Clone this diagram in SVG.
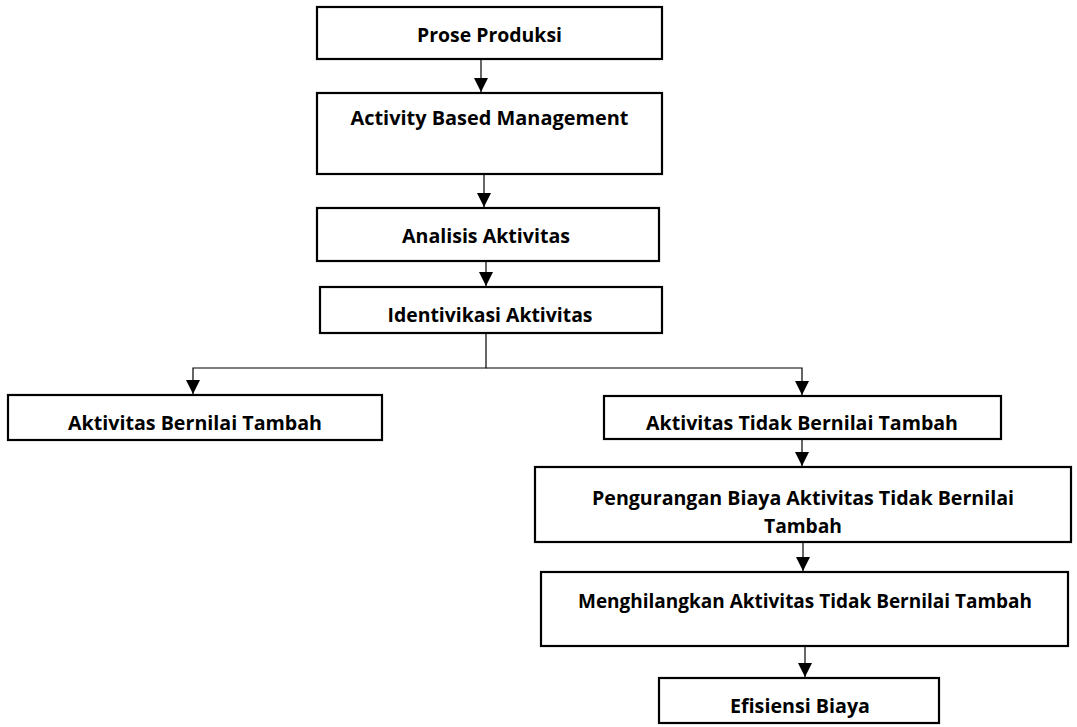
<svg xmlns="http://www.w3.org/2000/svg" width="1077" height="727" viewBox="0 0 1077 727">
<style>
.box{fill:#fff;stroke:#000;stroke-width:2.2}
.t{font-family:"Open Sans","Liberation Sans",sans-serif;font-weight:700;font-size:20px;fill:#000;text-anchor:middle}
.c{stroke:#000;stroke-width:1.2;fill:none}
</style>
<defs>
<marker id="ah" viewBox="0 0 14 14" refX="14" refY="7" markerWidth="14" markerHeight="14" markerUnits="userSpaceOnUse" orient="auto">
<path d="M0,0 L14,7 L0,14 z" fill="#000"/>
</marker>
</defs>
<rect width="1077" height="727" fill="#fff"/>
<g id="connectors">
<line class="c" x1="481" y1="59" x2="481" y2="92" marker-end="url(#ah)"/>
<line class="c" x1="484" y1="174" x2="484" y2="207" marker-end="url(#ah)"/>
<line class="c" x1="486" y1="261" x2="486" y2="286" marker-end="url(#ah)"/>
<polyline class="c" points="486,333 486,368 193,368 193,394" marker-end="url(#ah)"/>
<polyline class="c" points="486,368 802,368 802,395" marker-end="url(#ah)"/>
<line class="c" x1="802" y1="439" x2="802" y2="466" marker-end="url(#ah)"/>
<line class="c" x1="803" y1="542" x2="803" y2="571" marker-end="url(#ah)"/>
<line class="c" x1="805" y1="646" x2="805" y2="677" marker-end="url(#ah)"/>
</g>
<g id="n1"><rect class="box" x="317" y="7" width="345" height="52"/><text class="t" x="489.5" y="42" textLength="145" lengthAdjust="spacingAndGlyphs">Prose Produksi</text></g>
<g id="n2"><rect class="box" x="317" y="93" width="345" height="81"/><text class="t" x="489.5" y="125" textLength="278" lengthAdjust="spacingAndGlyphs">Activity Based Management</text></g>
<g id="n3"><rect class="box" x="317" y="208" width="342" height="53"/><text class="t" x="486" y="243" textLength="168" lengthAdjust="spacingAndGlyphs">Analisis Aktivitas</text></g>
<g id="n4"><rect class="box" x="320" y="287" width="342" height="46"/><text class="t" x="490" y="322" textLength="205" lengthAdjust="spacingAndGlyphs">Identivikasi Aktivitas</text></g>
<g id="n5"><rect class="box" x="8" y="395" width="374" height="45"/><text class="t" x="195" y="430" textLength="254" lengthAdjust="spacingAndGlyphs">Aktivitas Bernilai Tambah</text></g>
<g id="n6"><rect class="box" x="604" y="396" width="397" height="43"/><text class="t" x="802" y="430" textLength="312" lengthAdjust="spacingAndGlyphs">Aktivitas Tidak Bernilai Tambah</text></g>
<g id="n7"><rect class="box" x="535" y="467" width="536" height="75"/><text class="t" x="803" y="505" textLength="422" lengthAdjust="spacingAndGlyphs">Pengurangan Biaya Aktivitas Tidak Bernilai</text><text class="t" x="803" y="533" textLength="78" lengthAdjust="spacingAndGlyphs">Tambah</text></g>
<g id="n8"><rect class="box" x="541" y="572" width="527" height="74"/><text class="t" x="805" y="608" textLength="454" lengthAdjust="spacingAndGlyphs">Menghilangkan Aktivitas Tidak Bernilai Tambah</text></g>
<g id="n9"><rect class="box" x="659" y="678" width="280" height="45"/><text class="t" x="800" y="713" textLength="140" lengthAdjust="spacingAndGlyphs">Efisiensi Biaya</text></g>
</svg>
